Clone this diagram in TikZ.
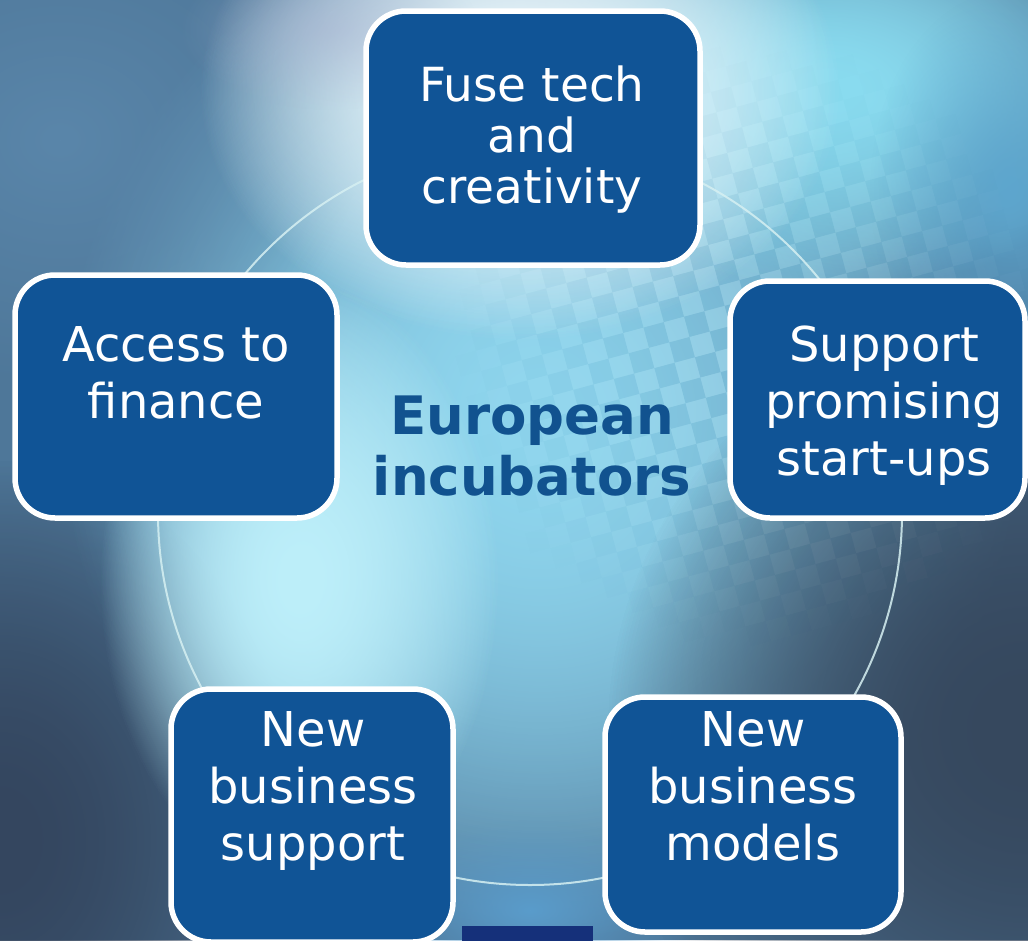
\documentclass[tikz,border=0pt]{standalone}
\usepackage{fontspec}
\setmainfont{DejaVu Sans}
\usetikzlibrary{fadings}

\definecolor{boxblue}{RGB}{16,84,150}
\definecolor{titleblue}{RGB}{17,82,143}
\definecolor{ringline}{RGB}{214,240,242}
\definecolor{tabnavy}{RGB}{21,48,122}
\definecolor{bgbase}{RGB}{78,119,153}
\definecolor{checkdark}{RGB}{45,100,145}

% soft radial glow: opaque in the middle, clear at the rim
\tikzfading[name=glow, inner color=transparent!0, outer color=transparent!100]

\begin{document}
\begin{tikzpicture}[x=1pt,y=-1pt,
  blob/.style={path fading=glow},
  ring/.style={draw=ringline, line width=2pt, opacity=0.85},
  stepbox/.style={draw=white, line width=5.5pt, fill=boxblue, rounded corners=40pt,
    inner sep=0pt, outer sep=0pt},
  boxtext/.style={text=white, align=center, anchor=base, inner sep=0pt,
    font=\fontsize{48}{57}\selectfont},
  titletext/.style={text=titleblue, align=center, anchor=base, inner sep=0pt,
    font=\fontsize{53}{61}\selectfont\bfseries}]

\path[use as bounding box, clip] (0,0) rectangle (1028,940);

% ---- blurred photographic backdrop ----
\fill[bgbase] (0,0) rectangle (1028,940);
\foreach \k in {1,2}{
  \fill[blob, color={rgb,255:red,143;green,214;blue,238}] (540,420) ellipse (480pt and 520pt);
}
\fill[blob, color={rgb,255:red,90;green,134;blue,170}] (60,140) ellipse (300pt and 250pt);
\foreach \k in {1,2}{
  \fill[blob, color={rgb,255:red,52;green,70;blue,95}] (0,840) ellipse (300pt and 380pt);
  \fill[blob, color={rgb,255:red,54;green,72;blue,94}] (1028,730) ellipse (420pt and 420pt);
  \fill[blob, color={rgb,255:red,138;green,220;blue,240}] (830,90) ellipse (320pt and 200pt);
}
\fill[blob, color={rgb,255:red,93;green,166;blue,206}] (1010,190) ellipse (140pt and 200pt);
\foreach \k in {1,2}{
  \fill[blob, color={rgb,255:red,189;green,239;blue,250}] (300,580) ellipse (200pt and 300pt);
  \fill[blob, color={rgb,255:red,234;green,246;blue,251}] (520,90) ellipse (320pt and 250pt);
}
\fill[blob, color={rgb,255:red,170;green,180;blue,210}, opacity=0.5] (330,30) ellipse (150pt and 80pt);
\fill[blob, color={rgb,255:red,90;green,156;blue,203}] (530,910) ellipse (170pt and 90pt);

% pixel checker texture
\begin{scope}[rotate around={15:(740,340)}]
\foreach \i in {0,...,28}{
  \foreach \j in {0,...,30}{
    \pgfmathsetmacro\px{440+\i*21}
    \pgfmathsetmacro\py{30+\j*21}
    \pgfmathsetmacro\dd{sqrt(((\px-740)/100)^2+((\py-340)/100)^2)/3.0}
    \pgfmathsetmacro\op{max(0,0.13*(1-\dd))}
    \pgfmathtruncatemacro\cel{mod(\i+\j,2)}
    \ifnum\cel=0
      \fill[white, opacity=\op] (\px,\py) rectangle ++(21,21);
    \else
      \fill[checkdark, opacity=\op] (\px,\py) rectangle ++(21,21);
    \fi
  }
}
\end{scope}

% ---- ring behind the boxes ----
\draw[ring] (530,513) circle (372pt);

% ---- small tab at the bottom edge ----
\node[fill=tabnavy, minimum width=131pt, minimum height=30pt, inner sep=0pt,
  anchor=north west] (tab) at (462,926) {};

% ---- boxes ----
\node[stepbox, minimum width=334pt, minimum height=254pt] (fuse) at (533,138) {};
\node[stepbox, minimum width=322pt, minimum height=243pt] (finance) at (176,396.5) {};
\node[stepbox, minimum width=295pt, minimum height=237pt] (startups) at (877.5,399.5) {};
\node[stepbox, minimum width=282pt, minimum height=253pt] (support) at (312,815.5) {};
\node[stepbox, minimum width=296pt, minimum height=235pt] (models) at (753,814.5) {};

% ---- labels (anchored at the baseline of their last line) ----
\node[boxtext, font=\fontsize{47}{51}\selectfont] (fuseText) at (532,203) {Fuse tech\\and\\creativity};
\node[boxtext] (financeText) at (176,418) {Access to\\finance};
\node[boxtext] (startupsText) at (884,475) {Support\\promising\\start-ups};
\node[boxtext] (supportText) at (313,860) {New\\business\\support};
\node[boxtext] (modelsText) at (753,860) {New\\business\\models};
\node[titletext] (title) at (532,495) {European\\incubators};

\end{tikzpicture}
\end{document}
